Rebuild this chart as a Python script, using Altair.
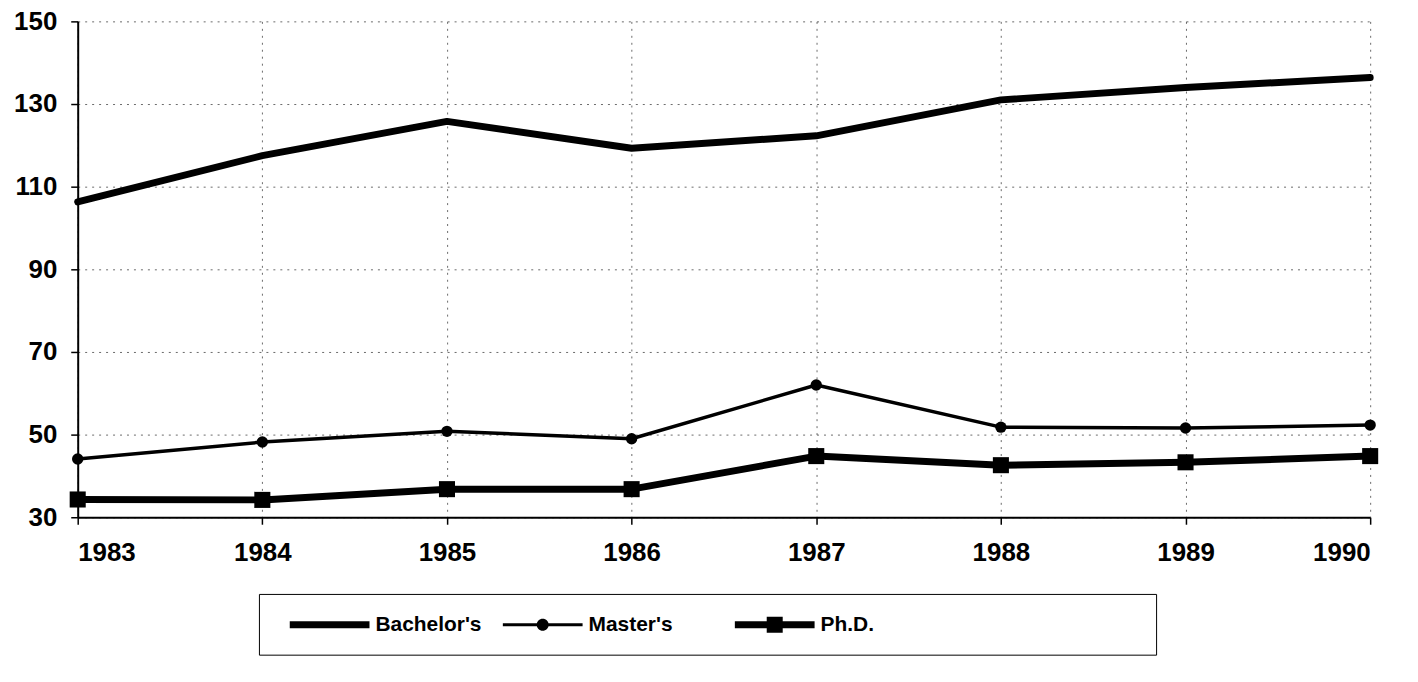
import altair as alt
import pandas as pd

years = [1983, 1984, 1985, 1986, 1987, 1988, 1989, 1990]
bachelors = [106.3, 117.5, 125.8, 119.3, 122.3, 131.0, 134.0, 136.4]
masters = [44.1, 48.2, 50.8, 49.0, 62.0, 51.8, 51.6, 52.3]
phd = [34.3, 34.2, 36.8, 36.8, 44.8, 42.6, 43.3, 44.8]
series_names = ["Bachelor's", "Master's", "Ph.D."]
y_ticks = [30, 50, 70, 90, 110, 130, 150]

rows = []
for name, vals in zip(series_names, [bachelors, masters, phd]):
    for yr, v in zip(years, vals):
        rows.append({"year": yr, "value": v, "series": name})
df = pd.DataFrame(rows)

X = alt.X("year:Q", title=None,
          scale=alt.Scale(domain=[1983, 1990], nice=False, zero=False),
          axis=alt.Axis(values=years, format="d", grid=True))
Y = alt.Y("value:Q", title=None,
          scale=alt.Scale(domain=[30, 150], nice=False, zero=False),
          axis=alt.Axis(values=y_ticks, grid=True))

base = alt.Chart(df).encode(x=X, y=Y)

bach = base.transform_filter(alt.datum.series == "Bachelor's").mark_line(
    color="black", strokeWidth=7, strokeCap="round", strokeJoin="round")
mast = base.transform_filter(alt.datum.series == "Master's").mark_line(
    color="black", strokeWidth=3.5, strokeJoin="round")
mast_pts = base.transform_filter(alt.datum.series == "Master's").mark_point(
    shape="circle", filled=True, color="black", size=130, opacity=1)
phd_l = base.transform_filter(alt.datum.series == "Ph.D.").mark_line(
    color="black", strokeWidth=7, strokeJoin="round")
phd_pts = base.transform_filter(alt.datum.series == "Ph.D.").mark_point(
    shape="square", filled=True, color="black", size=260, opacity=1)

# legend symbols: size 484 -> unit = 11px; paths extend to +/-40px
paths = [
    "M-3.64,-0.32H3.64V0.32H-3.64Z",
    "M-3.64,-0.14H3.64V0.14H-3.64Z M0.55,0A0.55,0.55 0 1,1 -0.55,0A0.55,0.55 0 1,1 0.55,0Z",
    "M-3.64,-0.32H3.64V0.32H-3.64Z M-0.73,-0.73H0.73V0.73H-0.73Z",
]
nb = "\u00a0"
zw = "\u200b"
label_expr = ("datum.label == 'Ph.D.' ? datum.label + '" + nb * 45 + zw + "' : "
              "indexof(datum.label, 'Master') == 0 ? datum.label + '" + nb * 7 + zw + "' : datum.label")

legend_layer = base.transform_filter("false").mark_point(
    filled=True, color="black", opacity=1).encode(
    shape=alt.Shape("series:N", scale=alt.Scale(domain=series_names, range=paths),
                    legend=alt.Legend(
                        title=None, orient="none", legendX=182, legendY=575,
                        direction="horizontal", symbolSize=484,
                        symbolFillColor="black", symbolStrokeWidth=0,
                        symbolOffset=40, labelOffset=35, columnPadding=10,
                        labelFont="Liberation Sans", labelFontSize=21,
                        labelFontWeight="bold", labelColor="black",
                        labelLimit=600, labelExpr=label_expr,
                        strokeColor="black", fillColor="white", padding=20,
                        cornerRadius=0)))

chart = alt.layer(bach, mast, mast_pts, phd_l, phd_pts, legend_layer).properties(
    width=1298, height=498,
    autosize=alt.AutoSizeParams(type="none"),
    padding={"left": 70, "top": 12, "right": 40, "bottom": 160},
).configure_view(stroke=None).configure_axis(
    labelFont="Liberation Sans", labelFontSize=26, labelFontWeight="bold",
    labelColor="black", domainColor="black", domainWidth=2,
    tickColor="black", tickWidth=1.5, tickSize=7,
    gridColor="#444", gridDash=[2, 5], gridWidth=1, gridOpacity=0.8,
).configure_axisY(labelPadding=14).configure_axisX(labelPadding=15)

chart.save("out.html", embed_options={"renderer": "svg", "actions": False})
